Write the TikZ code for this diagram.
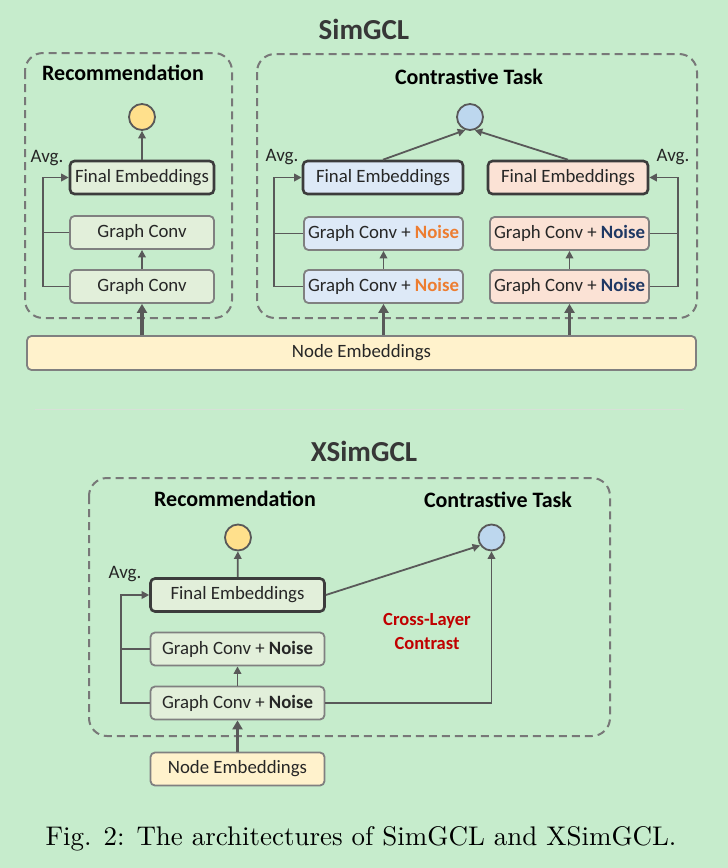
\documentclass[tikz,border=0pt]{standalone}
\usepackage{fontspec}
\usepackage{graphicx}
\setmainfont{Carlito}
\newfontfamily\capfont{Latin Modern Roman}
\usetikzlibrary{arrows.meta,calc}
\definecolor{bg}{RGB}{198,236,204}
\definecolor{gfill}{RGB}{226,239,218}
\definecolor{bfill}{RGB}{221,233,247}
\definecolor{ofill}{RGB}{251,226,213}
\definecolor{yfill}{RGB}{255,242,204}
\definecolor{ycirc}{RGB}{255,224,140}
\definecolor{bcirc}{RGB}{189,215,238}
\definecolor{noiseO}{RGB}{237,125,49}
\definecolor{noiseB}{RGB}{31,56,100}
\definecolor{clred}{RGB}{192,0,0}
\definecolor{edge}{RGB}{89,89,89}
\definecolor{boxedge}{RGB}{128,128,128}
\definecolor{darkedge}{RGB}{60,60,60}
\definecolor{dashc}{RGB}{120,120,120}
\definecolor{txt}{RGB}{38,38,38}
\definecolor{titlec}{RGB}{55,55,55}
\definecolor{sepc}{RGB}{215,225,215}
\begin{document}
\begin{tikzpicture}[x=1pt,y=-1pt,
 box/.style={draw=boxedge, line width=1.8pt, rounded corners=4.5pt, minimum height=33pt, inner sep=0pt, font=\fontsize{18.8}{21}\selectfont, text=txt},
 finalbox/.style={box, draw=darkedge, line width=2.6pt},
 circ/.style={circle, draw=edge, line width=1.8pt, minimum size=26pt, inner sep=0pt},
 group/.style={draw=dashc, line width=2pt, dash pattern=on 8pt off 5pt, rounded corners=18pt},
 conn/.style={draw=edge, line width=1.8pt},
 arr/.style={conn, -{Triangle[length=7.5pt,width=7.5pt]}},
 thickarr/.style={draw=edge, line width=3.2pt, -{Triangle[length=9pt,width=10pt]}},
 title/.style={font=\bfseries\fontsize{29}{32}\selectfont, text=titlec},
 head/.style={font=\bfseries\fontsize{22}{26}\selectfont, text=black},
 avg/.style={font=\fontsize{19}{22}\selectfont, text=txt},
 cl/.style={font=\bfseries\fontsize{18.5}{21}\selectfont, text=clred},
]
\fill[bg] (0,0) rectangle (728,868);
\useasboundingbox (0,0) rectangle (728,868);

% ===== SimGCL =====
\node[title] (t1) at (364,29) {SimGCL};
\draw[group] (25,53) rectangle (232,318);
\draw[group] (257,54) rectangle (697,318);
\node[head] (rh) at (123,73) {Recommendation};
\node[head] (ch) at (469,77) {Contrastive Task};

% Left: recommendation
\node[circ, fill=ycirc] (rC) at (142,117) {};
\node[finalbox, fill=gfill, minimum width=144pt] (rFE) at (142,177.5) {Final Embeddings};
\node[box, fill=gfill, minimum width=144pt] (rGC1) at (142,232.5) {Graph Conv};
\node[box, fill=gfill, minimum width=144pt] (rGC2) at (142,286.5) {Graph Conv};
\node[avg] (ra) at (47,158) {Avg.};
\coordinate (rfb) at (43,178);
\draw[arr] (rFE) -- (rC);
\draw[arr] (rGC2) -- (rGC1);
\draw[arr] (rGC2.west) -- (rGC2.west -| rfb) -- (rFE.west -| rfb) -- (rFE.west);
\draw[conn] (rGC1.west) -- (rGC1.west -| rfb);

% Right: contrastive
\node[circ, fill=bcirc] (bC) at (470,117) {};
\node[finalbox, fill=bfill, minimum width=160pt] (bFE) at (383,177.5) {Final Embeddings};
\node[finalbox, fill=ofill, minimum width=160pt] (oFE) at (568,177.5) {Final Embeddings};
\node[box, fill=bfill, minimum width=159pt] (bGC1) at (383.5,233.5) {Graph Conv + \textbf{\color{noiseO}Noise}};
\node[box, fill=bfill, minimum width=159pt] (bGC2) at (383.5,286.5) {Graph Conv + \textbf{\color{noiseO}Noise}};
\node[box, fill=ofill, minimum width=159pt] (oGC1) at (569.5,233.5) {Graph Conv + \textbf{\color{noiseB}Noise}};
\node[box, fill=ofill, minimum width=159pt] (oGC2) at (569.5,286.5) {Graph Conv + \textbf{\color{noiseB}Noise}};
\node[avg] (ba) at (282,157) {Avg.};
\node[avg] (oa) at (673,157) {Avg.};
\coordinate (bfb) at (274,178);
\coordinate (ofb) at (678,178);
\draw[arr] (bFE.north) -- (bC.-110);
\draw[arr] (oFE.north) -- (bC.-70);
\draw[arr] (bGC2) -- (bGC1);
\draw[arr] (oGC2) -- (oGC1);
\draw[arr] (bGC2.west) -- (bGC2.west -| bfb) -- (bFE.west -| bfb) -- (bFE.west);
\draw[conn] (bGC1.west) -- (bGC1.west -| bfb);
\draw[arr] (oGC2.east) -- (oGC2.east -| ofb) -- (oFE.east -| ofb) -- (oFE.east);
\draw[conn] (oGC1.east) -- (oGC1.east -| ofb);

% Node embeddings
\node[box, fill=yfill, minimum width=669pt, minimum height=34pt] (ne) at (361.5,353) {Node Embeddings};
\draw[thickarr] (rGC2.south |- ne.north) -- (rGC2.south);
\draw[thickarr] (bGC2.south |- ne.north) -- (bGC2.south);
\draw[thickarr] (oGC2.south |- ne.north) -- (oGC2.south);

% separator
\coordinate (s1) at (35,409);
\coordinate (s2) at (684,409);
\draw[sepc, line width=1pt] (s1) -- (s2);

% ===== XSimGCL =====
\node[title] (t2) at (364,451) {XSimGCL};
\draw[group] (89,478) rectangle (610,736);
\node[head] (xrh) at (235,499) {Recommendation};
\node[head] (xch) at (498,500) {Contrastive Task};
\node[circ, fill=ycirc] (xyC) at (238,537.5) {};
\node[circ, fill=bcirc] (xbC) at (491.5,537.5) {};
\node[finalbox, fill=gfill, minimum width=174pt] (xFE) at (237.5,595) {Final Embeddings};
\node[box, fill=gfill, minimum width=174pt] (xGC1) at (237.5,649) {Graph Conv + \textbf{Noise}};
\node[box, fill=gfill, minimum width=174pt] (xGC2) at (237.5,703) {Graph Conv + \textbf{Noise}};
\node[box, fill=yfill, minimum width=174pt] (xNE) at (237.5,769) {Node Embeddings};
\node[avg] (xa) at (125,574) {Avg.};
\node[cl] (cl1) at (427,620.5) {Cross-Layer};
\node[cl] (cl2) at (427,643.5) {Contrast};
\coordinate (xfb) at (121,595);
\draw[arr] (xFE) -- (xyC);
\draw[arr] (xGC2) -- (xGC1);
\draw[thickarr] (xNE) -- (xGC2);
\draw[arr] (xGC2.west) -- (xGC2.west -| xfb) -- (xFE.west -| xfb) -- (xFE.west);
\draw[conn] (xGC1.west) -- (xGC1.west -| xfb);
\draw[arr] (xFE.east) -- (xbC.-145);
\draw[arr] (xGC2.east) -- (xGC2.east -| xbC) -- (xbC.south);

% caption
\node (cap) at (361,839) {\capfont\resizebox{631pt}{!}{Fig. 2: The architectures of SimGCL and XSimGCL.}};
\end{tikzpicture}
\end{document}
